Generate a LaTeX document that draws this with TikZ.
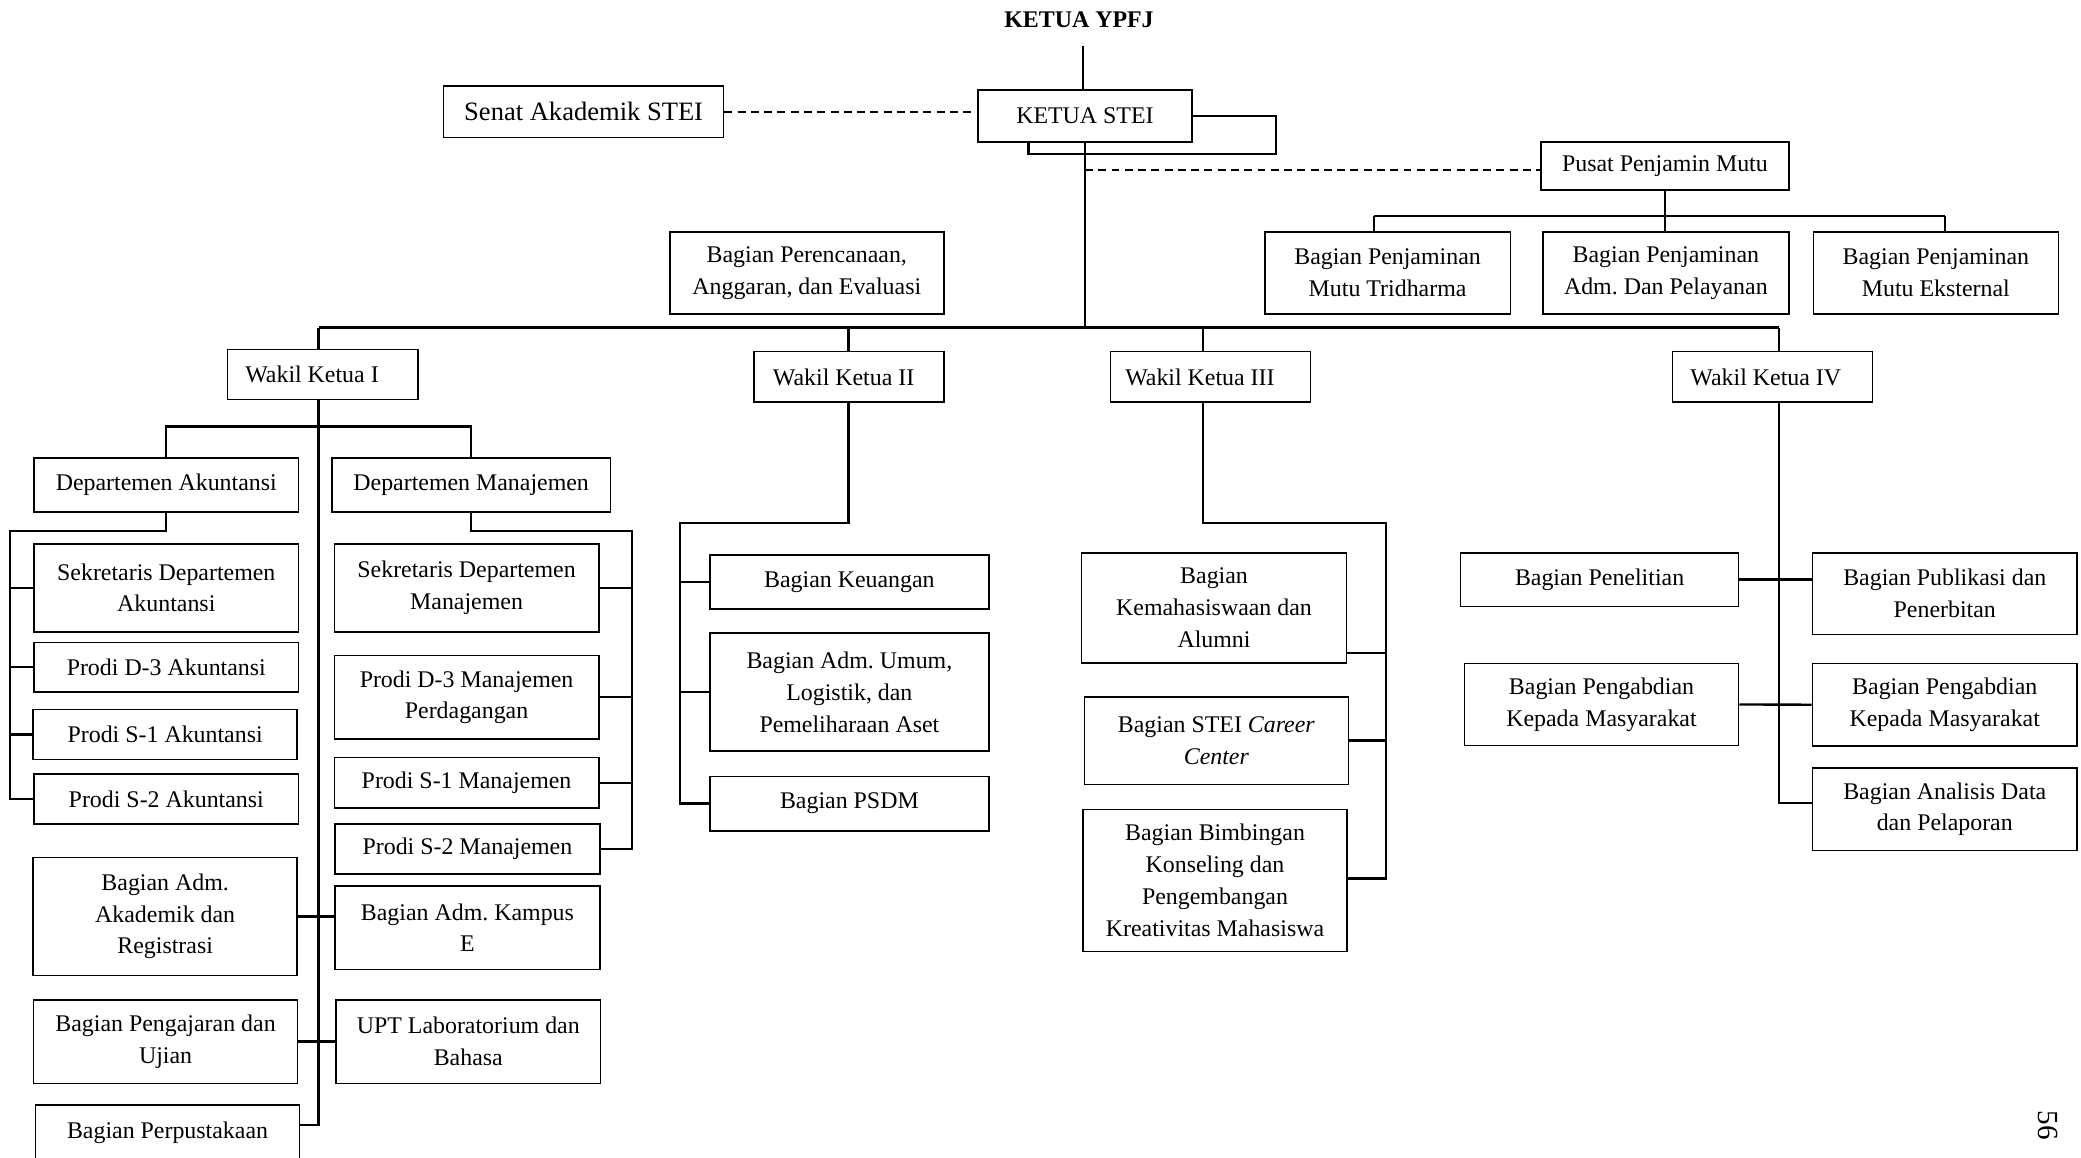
\documentclass[tikz,border=0pt]{standalone}
\usepackage{fontspec}
\setmainfont{Liberation Serif}
\frenchspacing
\newcommand\bx[7][]{\node[box,#1,minimum width={(#5-#3)*0.5pt},minimum height={(#6-#4)*0.5pt}] (#2) at ({(#3+#5)/2},{(#4+#6)/2}) {#7};}
\begin{document}
\frenchspacing
\begin{tikzpicture}[x=0.5pt,y=-0.5pt,
  box/.style={draw,line width=0.6pt,inner sep=0pt,align=center,font=\fontsize{9}{12}\selectfont},
  conn/.style={line width=0.9pt},
  dashconn/.style={line width=0.8pt,dash pattern=on 3pt off 2pt}]
\useasboundingbox (0,0) rectangle (1568,872);
\fill[white] (0,0) rectangle (1568,872);

% top
\node[font=\fontsize{9}{12}\selectfont\bfseries] (ypfj) at (813,14.5) {KETUA YPFJ};
\bx{ketua}{737}{67.8}{898}{106.8}{KETUA STEI}
\bx[font=\fontsize{10}{12}\selectfont]{senat}{334.3}{64.6}{545.2}{103.7}{Senat Akademik STEI}
\bx{pusat}{1161}{106.8}{1348}{143.2}{Pusat Penjamin Mutu}
\bx{pm1}{953}{174.6}{1138}{236.6}{Bagian Penjaminan\\Mutu Tridharma}
\bx{pm2}{1162.6}{174.6}{1347.8}{236.6}{Bagian Penjaminan\\Adm. Dan Pelayanan}
\bx{pm3}{1366.3}{174.6}{1551}{236.6}{Bagian Penjaminan\\Mutu Eksternal}
\bx{renc}{504.7}{174.6}{711.1}{236.6}{Bagian Perencanaan,\\Anggaran, dan Evaluasi}
\bx{wk1}{171.4}{263.3}{314.8}{301}{Wakil Ketua I\hspace{8pt}}
\bx{wk2}{568.2}{265}{711.1}{303}{Wakil Ketua II\hspace{4pt}}
\bx{wk3}{836.8}{265}{987.4}{303}{Wakil Ketua III\hspace{8pt}}
\bx{wk4}{1260.2}{265}{1410.8}{303}{Wakil Ketua IV\hspace{5pt}}

% Wakil I area
\bx{akt}{25.6}{345}{225}{385.8}{Departemen Akuntansi}
\bx{mnj}{250}{345}{460}{385.8}{Departemen Manajemen}
\bx{aktsek}{25.6}{409.8}{225}{476}{Sekretaris Departemen\\Akuntansi}
\bx{aktd3}{25.6}{484}{225}{521.4}{Prodi D-3 Akuntansi}
\bx{akts1}{24.9}{534.5}{224}{572.3}{Prodi S-1 Akuntansi}
\bx{akts2}{25.6}{583.2}{225}{620.7}{Prodi S-2 Akuntansi}
\bx{mnjsek}{251.9}{409.8}{451.2}{476}{Sekretaris Departemen\\Manajemen}
\bx{mnjd3}{251.9}{493.8}{451.2}{557}{Prodi D-3 Manajemen\\Perdagangan}
\bx{mnjs1}{251.9}{570.9}{451.2}{608.7}{Prodi S-1 Manajemen}
\bx{mnjs2}{252.5}{621}{451.9}{658.5}{Prodi S-2 Manajemen}
\bx{admak}{24.9}{646.1}{224}{734.9}{Bagian Adm.\\Akademik dan\\Registrasi}
\bx{admke}{252.5}{667.6}{451.9}{730.5}{Bagian Adm. Kampus\\E}
\bx{ajar}{25.3}{753.4}{224.2}{816.3}{Bagian Pengajaran dan\\Ujian}
\bx{upt}{253.2}{753.4}{452.5}{816.3}{UPT Laboratorium dan\\Bahasa}
\bx{perpus}{26.9}{832.7}{225.6}{874}{Bagian Perpustakaan}

% Wakil II area
\bx{keu}{535}{418}{745}{459}{Bagian Keuangan}
\bx{umum}{535}{477}{745}{566}{Bagian Adm. Umum,\\Logistik, dan\\Pemeliharaan Aset}
\bx{psdm}{535}{585}{745}{626}{Bagian PSDM}

% Wakil III area
\bx{kema}{815}{416.5}{1014.5}{499.5}{Bagian\\Kemahasiswaan dan\\Alumni}
\bx{career}{817}{525}{1016}{591}{Bagian STEI \textit{Career}\\\textit{Center}}
\bx{bimb}{816}{610}{1015}{717}{Bagian Bimbingan\\Konseling dan\\Pengembangan\\Kreativitas Mahasiswa}

% Wakil IV area
\bx{penel}{1100.5}{416.5}{1310}{457}{Bagian Penelitian}
\bx{publ}{1365.7}{416.5}{1565}{478}{Bagian Publikasi dan\\Penerbitan}
\bx{pengL}{1103.4}{500}{1310}{561.6}{Bagian Pengabdian\\Kepada Masyarakat}
\bx{pengR}{1365.7}{500}{1565}{562}{Bagian Pengabdian\\Kepada Masyarakat}
\bx{anal}{1365.7}{578.7}{1565}{640.7}{Bagian Analisis Data\\dan Pelaporan}

\node[rotate=-90,font=\fontsize{11}{12}\selectfont] (pg) at (1543,848) {56};

% coordinates
\coordinate (ytop) at (816,34.4);
\coordinate (brkR) at (961.4,116);
\coordinate (brkL) at (775,116);
\coordinate (bus) at (0,246.9);
\coordinate (x1) at (240,0);
\coordinate (x2) at (639.2,0);
\coordinate (x3) at (906.3,0);
\coordinate (x4) at (1340.3,0);
\coordinate (pd1) at (1035.5,162.8);
\coordinate (pd3) at (1465.4,162.8);
\coordinate (ydash) at (0,128);
\coordinate (lvlD) at (0,321.4);
\coordinate (la) at (7.5,400.3);
\coordinate (lm) at (476.4,400.3);
\coordinate (yperp) at (0,847.6);
\coordinate (l2) at (512.5,394);
\coordinate (l3) at (1044.5,394);
\coordinate (b3a) at (0,491.8);
\coordinate (b3c) at (0,661.9);
\coordinate (b4) at (0,604.9);

% top connectors
\draw[conn] (ytop) -- (ytop |- ketua.north);
\draw[dashconn] (senat.east) -- (senat.east -| ketua.west);
\draw[conn] (ketua.east) -| (brkR) -- (brkL) -- (brkL |- ketua.south);
\draw[conn] (ketua.south) -- (ketua.south |- bus);
\draw[dashconn] (ketua.south |- ydash) -- (pusat.west |- ydash);
\draw[conn] (pusat.south) -- (pusat.south |- pm2.north);
\draw[conn] (pd1) -- (pd3);
\draw[conn] (pd1) -- (pd1 |- pm1.north);
\draw[conn] (pd3) -- (pd3 |- pm3.north);

% main bus
\draw[conn] (x1 |- bus) -- (x4 |- bus);
\draw[conn] (x1 |- bus) -- (x1 |- wk1.north);
\draw[conn] (x2 |- bus) -- (x2 |- wk2.north);
\draw[conn] (x3 |- bus) -- (x3 |- wk3.north);
\draw[conn] (x4 |- bus) -- (x4 |- wk4.north);

% Wakil I
\draw[conn] (x1 |- wk1.south) -- (x1 |- yperp) -- (perpus.east |- yperp);
\draw[conn] (akt.north) -- (akt.north |- lvlD) -- (mnj.north |- lvlD) -- (mnj.north);
\draw[conn] (akt.south) |- (la) -- (la |- akts2.west) -- (akts2.west);
\draw[conn] (la |- aktsek.west) -- (aktsek.west);
\draw[conn] (la |- aktd3.west) -- (aktd3.west);
\draw[conn] (la |- akts1.west) -- (akts1.west);
\draw[conn] (mnj.south) |- (lm) -- (lm |- mnjs2.east) -- (mnjs2.east);
\draw[conn] (lm |- mnjsek.east) -- (mnjsek.east);
\draw[conn] (lm |- mnjd3.east) -- (mnjd3.east);
\draw[conn] (lm |- mnjs1.east) -- (mnjs1.east);
\draw[conn] (admak.east) -- (admak.east -| admke.west);
\draw[conn] (ajar.east) -- (upt.west);

% Wakil II
\draw[conn] (x2 |- wk2.south) |- (l2) -- (l2 |- psdm.west) -- (psdm.west);
\draw[conn] (l2 |- keu.west) -- (keu.west);
\draw[conn] (l2 |- umum.west) -- (umum.west);

% Wakil III
\draw[conn] (x3 |- wk3.south) |- (l3) -- (l3 |- b3c) -- (bimb.east |- b3c);
\draw[conn] (l3 |- b3a) -- (kema.east |- b3a);
\draw[conn] (l3 |- career.east) -- (career.east);

% Wakil IV
\draw[conn] (x4 |- wk4.south) -- (x4 |- b4) -- (anal.west |- b4);
\draw[conn] (penel.east) -- (penel.east -| publ.west);
\draw[conn] (pengL.east) -- (pengR.west);
\end{tikzpicture}
\end{document}
